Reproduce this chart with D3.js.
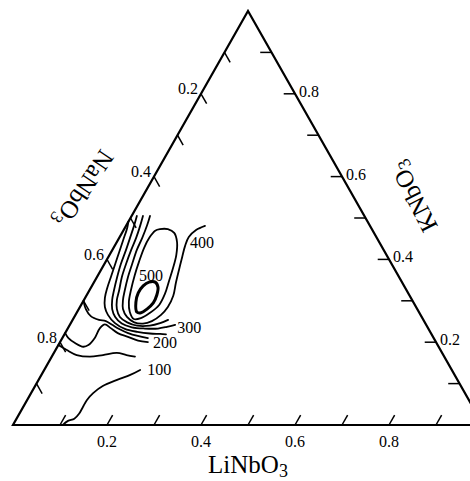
<!DOCTYPE html>
<html>
<head>
<meta charset="utf-8">
<script src="https://cdn.jsdelivr.net/npm/d3@7"></script>
<style>
  html, body { margin: 0; padding: 0; background: #fff; }
  svg { display: block; }
  text { font-family: "Liberation Serif", "Times New Roman", serif; fill: #000; }
</style>
</head>
<body>
<svg id="chart" width="470" height="481"></svg>
<script>
// Compositions are [LiNbO3, KNbO3] mole fractions; NaNbO3 = 1 - Li - K.

const tickValues = [0.1, 0.2, 0.3, 0.4, 0.5, 0.6, 0.7, 0.8, 0.9];
const labelledTicks = [0.2, 0.4, 0.6, 0.8];
const tickLabels = ["0.2", "0.4", "0.6", "0.8"];

const titleBottom = ["LiNbO", "3"];
const titleLeft = ["NaNbO", "3"];
const titleRight = ["KNbO", "3"];

const contourLevels = [100, 150, 200, 250, 250, 300, 350, 400, 450, 500];

const contour100 = [[0.106,0],[0.112,0.010],[0.123,0.015],[0.127,0.027],[0.127,0.043],[0.127,0.060],[0.132,0.077],[0.144,0.094],[0.167,0.109],[0.189,0.121],[0.204,0.133]];
const contour150 = [[0,0.193],[0.024,0.181],[0.051,0.169],[0.081,0.165],[0.107,0.169],[0.134,0.174],[0.157,0.169],[0.177,0.165]];
const contour200 = [[0,0.222],[0.013,0.210],[0.033,0.198],[0.055,0.189],[0.064,0.193],[0.069,0.210],[0.068,0.234],[0.074,0.243],[0.091,0.234],[0.112,0.222],[0.138,0.213],[0.164,0.204],[0.187,0.200]];
const contour250a = [[0,0.300],[0.015,0.280],[0.034,0.263],[0.056,0.254],[0.072,0.251],[0.090,0.242],[0.110,0.232],[0.134,0.222],[0.158,0.215],[0.182,0.210]];
const contour250b = [[0,0.491],[0.005,0.476],[0.011,0.447],[0.017,0.418],[0.023,0.389],[0.029,0.360],[0.035,0.331],[0.042,0.307],[0.053,0.285],[0.069,0.266],[0.094,0.246],[0.122,0.232],[0.152,0.225],[0.181,0.221],[0.203,0.220],[0.216,0.219]];
const contour300 = [[0.011,0.505],[0.017,0.481],[0.023,0.452],[0.029,0.423],[0.035,0.389],[0.043,0.357],[0.052,0.326],[0.060,0.302],[0.071,0.280],[0.087,0.261],[0.109,0.245],[0.135,0.236],[0.164,0.233],[0.192,0.233],[0.209,0.237],[0.224,0.242]];
const contour350 = [[0.024,0.505],[0.030,0.481],[0.036,0.452],[0.040,0.423],[0.046,0.389],[0.053,0.357],[0.063,0.326],[0.070,0.302],[0.081,0.280],[0.097,0.261],[0.119,0.248],[0.144,0.240],[0.171,0.240],[0.190,0.246],[0.203,0.254]];
const contour400 = [[0.039,0.505],[0.044,0.483],[0.049,0.452],[0.052,0.423],[0.059,0.389],[0.066,0.357],[0.075,0.326],[0.083,0.302],[0.094,0.280],[0.112,0.261],[0.134,0.248],[0.154,0.245],[0.170,0.251],[0.182,0.266],[0.187,0.285],[0.185,0.312],[0.175,0.343],[0.166,0.374],[0.157,0.406],[0.150,0.432],[0.147,0.454],[0.154,0.471],[0.168,0.481]];
const contour450 = [[0.076,0.473],[0.093,0.473],[0.111,0.464],[0.128,0.442],[0.142,0.411],[0.151,0.379],[0.158,0.348],[0.165,0.316],[0.166,0.290],[0.156,0.271],[0.143,0.258],[0.129,0.256],[0.112,0.273],[0.098,0.297],[0.088,0.326],[0.078,0.362],[0.071,0.394],[0.065,0.428],[0.064,0.452],[0.068,0.469]];
const contour500 = [[0.127,0.273],[0.113,0.297],[0.107,0.319],[0.109,0.336],[0.117,0.345],[0.130,0.345],[0.142,0.333],[0.149,0.314],[0.151,0.295],[0.145,0.280],[0.137,0.271]];

const contourPaths = [contour100, contour150, contour200, contour250a, contour250b, contour300, contour350, contour400, contour450, contour500];
const closedContours = [false, false, false, false, false, false, false, false, true, true];
const labelledLevels = [100, 200, 300, 400, 500];

// ---- drawing ----
const svg = d3.select("#chart");

// Cartesian position: x from (Li + K/2), y from K
const xScale = d3.scaleLinear().domain([0, 1]).range([13, 483]);
const yScale = d3.scaleLinear().domain([0, 1]).range([425, 11]);
const project = ([li, k]) => [xScale(li + k / 2), yScale(k)];

// triangle frame
svg.append("path")
  .attr("d", d3.line()([[0, 0], [1, 0], [0, 1]].map(project)) + "Z")
  .attr("fill", "none").attr("stroke", "#000").attr("stroke-width", 2.2)
  .attr("stroke-linejoin", "miter");

// ticks, each drawn along the iso-line of its component
const tLen = 0.024;
const ticks = svg.append("g").attr("stroke", "#000").attr("stroke-width", 1.5);
tickValues.forEach(t => {
  // LiNbO3 along the base
  ticks.append("path").attr("d", d3.line()([project([t, 0]), project([t, tLen])]));
  // NaNbO3 along the left side
  ticks.append("path").attr("d", d3.line()([project([0, 1 - t]), project([tLen, 1 - t - tLen])]));
  // KNbO3 along the right side
  ticks.append("path").attr("d", d3.line()([project([1 - t, t]), project([1 - t - tLen, t])]));
});

const tickFont = 16;
labelledTicks.forEach((t, i) => {
  const b = project([t, 0]);
  svg.append("text").attr("x", b[0]).attr("y", b[1] + 21.5)
    .attr("text-anchor", "middle").attr("font-size", tickFont).text(tickLabels[i]);
  const l = project([0, 1 - t]);
  svg.append("text").attr("x", l[0] - 3).attr("y", l[1] + 0.5)
    .attr("text-anchor", "end").attr("font-size", tickFont).text(tickLabels[i]);
  const r = project([1 - t, t]);
  svg.append("text").attr("x", r[0] + 4).attr("y", r[1] + 3)
    .attr("text-anchor", "start").attr("font-size", tickFont).text(tickLabels[i]);
});

// axis titles
function title(parts, x, y, angle, shift) {
  const t = svg.append("text")
    .attr("transform", `translate(${x},${y}) rotate(${angle})`)
    .attr("y", shift)
    .attr("text-anchor", "middle").attr("font-size", 25);
  t.append("tspan").text(parts[0]);
  t.append("tspan").attr("font-size", 18).attr("dy", 4).text(parts[1]);
  return t;
}
const baseMid = project([0.5, 0]);
title(titleBottom, baseMid[0], baseMid[1] + 48, 0, 0);
const leftMid = project([0, 0.5]);
title(titleLeft, leftMid[0] - 47, leftMid[1] - 29.5, 124, 8);
const rightMid = project([0.5, 0.5]);
title(titleRight, rightMid[0] + 48.5, rightMid[1] - 21.5, -117, 8);

// contour lines
const openLine = d3.line().x(d => project(d)[0]).y(d => project(d)[1]).curve(d3.curveCatmullRom.alpha(0.5));
const closedLine = d3.line().x(d => project(d)[0]).y(d => project(d)[1]).curve(d3.curveCatmullRomClosed.alpha(0.5));

const cg = svg.append("g").attr("fill", "none").attr("stroke", "#000")
  .attr("stroke-linecap", "round").attr("stroke-linejoin", "round");
contourPaths.forEach((pts, i) => {
  cg.append("path")
    .attr("d", closedContours[i] ? closedLine(pts) : openLine(pts))
    .attr("stroke-width", contourLevels[i] === 500 ? 3 : 1.8);
});

// contour value labels
const labelOffset = { 100: [7, 5], 200: [5, 6], 300: [2, 8], 400: [-15, 22.5] };
labelledLevels.forEach(level => {
  const i = contourLevels.indexOf(level);
  const pts = contourPaths[i];
  if (closedContours[i]) {
    const top = pts.reduce((a, b) => (b[1] > a[1] ? b : a));
    const p = project(top);
    svg.append("text").attr("x", p[0] + 2).attr("y", p[1] - 1)
      .attr("text-anchor", "middle").attr("font-size", 16).text(level);
  } else {
    const p = project(pts[pts.length - 1]);
    const o = labelOffset[level];
    svg.append("text").attr("x", p[0] + o[0]).attr("y", p[1] + o[1])
      .attr("font-size", 16).text(level);
  }
});
</script>
</body>
</html>
